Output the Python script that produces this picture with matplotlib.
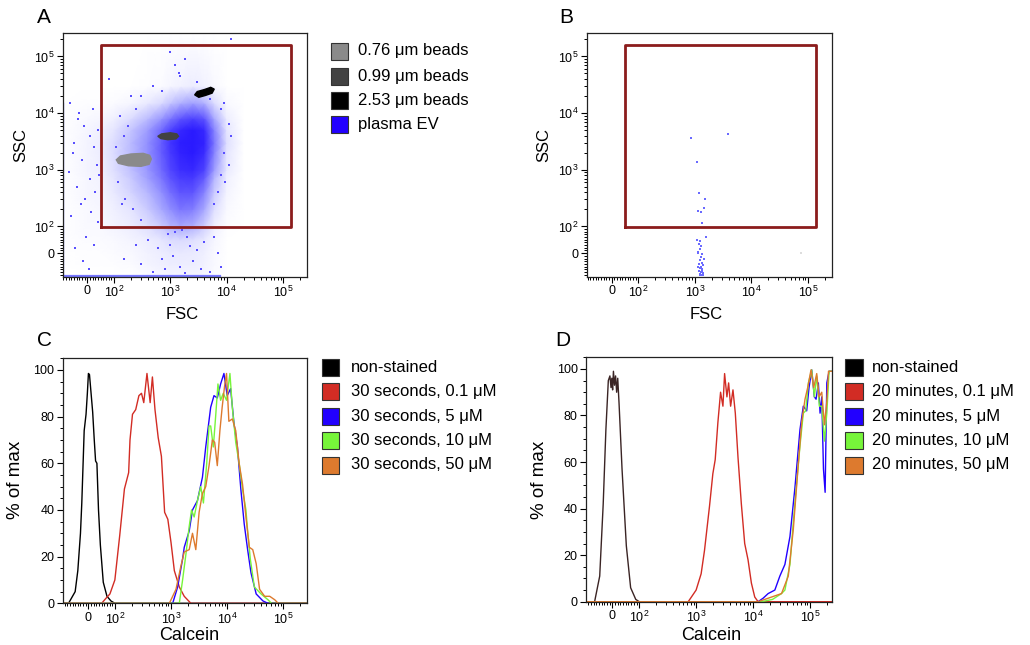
import numpy as np
import matplotlib
matplotlib.use('Agg')
import matplotlib.pyplot as plt
from matplotlib.colors import LinearSegmentedColormap
from matplotlib.patches import Rectangle
from matplotlib.ticker import FixedLocator, MultipleLocator

plt.rcParams['font.family'] = ['Liberation Sans', 'DejaVu Sans']
plt.rcParams['mathtext.default'] = 'regular'

# ---------------- data ----------------
# Panel A: plasma EV density (nodes in FSC / SSC units)
ev_fsc_nodes = [-93, 0, 50, 100, 200, 400, 700, 1000, 1500, 2500, 4000, 6000, 10000, 20000, 262144]
ev_ssc_nodes = [-88, -40, 0, 50, 100, 200, 400, 700, 1000, 2000, 3000, 5000, 8000, 15000, 30000, 262144]
ev_density = [
    [0, 0, 0, 0, 0, 0.02, 0.04, 0.05, 0.05, 0.05, 0.04, 0.02, 0, 0, 0],
    [0, 0.01, 0.01, 0.01, 0.02, 0.05, 0.07, 0.08, 0.08, 0.08, 0.06, 0.03, 0, 0, 0],
    [0, 0.01, 0.01, 0.02, 0.03, 0.06, 0.08, 0.10, 0.10, 0.09, 0.07, 0.03, 0, 0, 0],
    [0, 0.02, 0.02, 0.03, 0.05, 0.08, 0.12, 0.15, 0.16, 0.14, 0.10, 0.04, 0, 0, 0],
    [0, 0.03, 0.03, 0.05, 0.08, 0.14, 0.22, 0.30, 0.35, 0.32, 0.20, 0.07, 0.01, 0, 0],
    [0, 0.03, 0.04, 0.07, 0.12, 0.22, 0.35, 0.45, 0.55, 0.52, 0.35, 0.14, 0.03, 0, 0],
    [0, 0.04, 0.05, 0.10, 0.18, 0.30, 0.45, 0.58, 0.68, 0.68, 0.50, 0.22, 0.05, 0, 0],
    [0, 0.04, 0.06, 0.12, 0.22, 0.38, 0.55, 0.68, 0.80, 0.82, 0.65, 0.30, 0.07, 0, 0],
    [0, 0.05, 0.07, 0.14, 0.26, 0.42, 0.60, 0.75, 0.88, 0.92, 0.78, 0.40, 0.10, 0, 0],
    [0, 0.05, 0.08, 0.15, 0.28, 0.45, 0.65, 0.82, 0.95, 1.00, 0.90, 0.50, 0.12, 0, 0],
    [0, 0.05, 0.08, 0.15, 0.28, 0.45, 0.65, 0.85, 0.98, 1.00, 0.95, 0.55, 0.14, 0, 0],
    [0, 0.04, 0.07, 0.12, 0.24, 0.40, 0.60, 0.78, 0.92, 1.00, 0.92, 0.50, 0.12, 0, 0],
    [0, 0.03, 0.04, 0.07, 0.15, 0.28, 0.42, 0.55, 0.68, 0.78, 0.68, 0.35, 0.08, 0, 0],
    [0, 0.01, 0.01, 0.02, 0.04, 0.10, 0.16, 0.24, 0.32, 0.38, 0.32, 0.15, 0.03, 0, 0],
    [0, 0, 0, 0, 0, 0.01, 0.02, 0.04, 0.06, 0.08, 0.06, 0.03, 0, 0, 0],
    [0] * 15,
]
ev_sparse_fsc = [-65, -34, -12, 8, -50, 24, -20, 35, -70, 10, -40, 30, -25, 15, -60, 40, -5, 25, -45, -15, 5,
                 38, -30, 20, -55, 42, -8,
                 1000, 12000, 1200, 1800, 80, 1400, 200, 11000, 9000,
                 400, 700, 1000, 1500, 2000, 3000, 5000, 800, 1200, 2500, 600, 4000, 300, 1800, 7000, 1100,
                 2200, 900, 3500, 1600, 500, 250, 150, 8000, 6000,
                 130, 180, 250, 150, 300, 500, 700, 9000, 12000, 8000, 11000, 7000, 6000, 9500, 120, 160,
                 220, 110, 140, 300, 5000, 8000, 3000, 1500]
ev_sparse_ssc = [15000, 8000, 6000, 4000, 3000, 2500, 1500, 1200, 900, 700, 500, 400, 250, 180, 150, 120, 60,
                 30, 20, -30, -60, 5000, 10000, 12000, 2000, 800, 300,
                 120000, 200000, 70000, 90000, 40000, 50000, 20000, 6500, 15000,
                 50, -20, 30, -50, 60, 10, -70, -60, 80, -30, 20, 40, -40, -75, 0, -10,
                 25, 70, -60, 85, -70, 30, -20, -50, 60,
                 9000, 6000, 12000, 4000, 20000, 30000, 25000, 2000, 4000, 800, 1200, 400, 250, 600, 600, 300,
                 200, 2500, 250, 130, 18000, 12000, 35000, 45000]
edge_bottom_fsc = [-93, 7500]
edge_bottom_ssc = [-86, -86]
edge_left_fsc = [-91, -91]
edge_left_ssc = [-88, 15000]

bead076_fsc = [110, 130, 200, 330, 430, 460, 420, 300, 180, 120]
bead076_ssc = [1500, 1750, 1900, 1950, 1800, 1550, 1250, 1150, 1180, 1300]
bead099_fsc = [600, 700, 1000, 1300, 1400, 1250, 900, 680]
bead099_ssc = [3900, 4300, 4500, 4300, 3900, 3500, 3400, 3550]
bead253_fsc = [2700, 3000, 4000, 5200, 6000, 5500, 4200, 3200]
bead253_ssc = [21000, 24000, 26000, 28500, 26500, 22500, 20500, 19000]

gate_fsc = [50, 139000, 139000, 50, 50]
gate_ssc = [98, 98, 159000, 159000, 98]

legend_a_labels = ['0.76 μm beads', '0.99 μm beads', '2.53 μm beads', 'plasma EV']
legend_a_colors = ['#8a8a8a', '#424242', '#000000', '#2200ff']

# Panel B: buffer-only events
b_fsc = [850, 3800, 1100, 1200, 1500, 1150, 1480, 1300, 1350, 1100, 1550,
         1200, 1300, 1250, 1150, 1350, 1280, 1220, 1320, 1180, 1400, 1260, 1350, 1200, 1300, 1380,
         1240, 1420, 1320, 1160, 1450, 1150, 1230, 1280, 1340, 1260]
b_ssc = [3670, 4250, 1350, 390, 300, 185, 215, 180, 117, 51, 62,
         35, 25, 15, 5, -5, -15, -25, -35, -40, -45, -55, -60, -65, -70, -75,
         -78, -80, -82, 0, -20, -50, 45, -50, -68, -83]

# Panel C: 30 seconds staining
c_black_x = [-93, -75, -50, -40, -30, -25, -16, -9, -4, 0, 4, 10, 16, 22, 27, 32, 38, 45, 56, 70, 85, 100, 262144]
c_black_y = [0, 0, 5, 14, 30, 43, 74, 81, 90, 98.5, 98, 90, 82, 70, 61, 60, 40, 25, 9, 3, 1, 0, 0]
c_red_x = [-93, 50, 65, 81, 100, 122, 148, 176, 186, 206, 235, 268, 298, 327, 373, 425, 466, 518, 591,
           674, 769, 877, 1000, 1145, 1403, 1718, 2254, 262144]
c_red_y = [0, 0, 2, 4, 10, 29, 49, 56, 70, 81, 83, 89, 90, 86, 98.5, 86, 97, 83, 71, 63, 39, 36, 26, 14,
           7, 3, 0, 0]
c_blue_x = [-93, 1070, 1311, 1606, 1719, 2107, 2410, 2953, 3621, 4147, 5078, 5818, 6664, 7634, 8745,
            10000, 11500, 13220, 15200, 17470, 20080, 23090, 26540, 32790, 43300, 53300, 262144]
c_blue_y = [0, 0, 7, 19, 24, 31, 40, 44, 54, 67, 84, 89, 88, 94, 98.5, 89, 92, 77, 67, 49, 34, 23, 13,
            4, 1, 0, 0]
c_green_x = [-93, 1403, 1606, 1840, 2107, 2318, 2580, 2953, 3380, 3770, 4320, 4750, 5078, 5660, 6220,
             6840, 7634, 8500, 9730, 11180, 12330, 14180, 16300, 18740, 21540, 23090, 25770, 30400,
             40130, 53300, 61300, 262144]
c_green_y = [0, 0, 10, 21, 33, 40, 37, 44, 50, 43, 60, 76, 76, 67, 80, 94, 87, 90, 87, 98.5, 84, 69, 60,
             49, 40, 31, 19, 7, 4, 1.5, 0, 0]
c_orange_x = [-93, 933, 1225, 1500, 1719, 2107, 2410, 2760, 3160, 3621, 4147, 4750, 5440, 5980, 6660,
              7410, 8130, 8970, 9730, 10700, 12330, 14180, 16300, 18740, 21540, 24770, 28480, 32790,
              37700, 46400, 57100, 70300, 80700, 262144]
c_orange_y = [0, 0, 6, 16, 22, 23, 30, 23, 39, 47, 50, 59, 70, 69, 59, 74, 84, 93, 98.5, 78, 79, 74, 60,
              51, 37, 24, 23, 17, 6, 3, 3, 1.5, 0, 0]
legend_c_labels = ['non-stained', '30 seconds, 0.1 μM', '30 seconds, 5 μM', '30 seconds, 10 μM',
                   '30 seconds, 50 μM']

# Panel D: 20 minutes staining
d_black_x = [-98, -66, -47, -34, -24, -15, -9, -5, -2, 1, 4, 8, 12, 16, 20, 25, 36, 52, 68, 87, 100, 240000]
d_black_y = [0, 0, 11, 42, 74, 95, 97, 92, 96, 91, 99, 93, 97, 90, 96, 85, 57, 24, 6, 1, 0, 0]
d_red_x = [-98, 727, 826, 1000, 1225, 1403, 1718, 1967, 2163, 2411, 2687, 2956, 3162, 3474, 3721, 4034,
           4437, 4876, 5436, 6223, 7125, 8157, 9340, 10700, 12250, 240000]
d_red_y = [0, 0, 2, 5, 12, 22, 41, 55, 61, 77, 90, 84, 98, 88, 94, 84, 91, 81, 62, 42, 25, 18, 8, 2, 0, 0]
d_blue_x = [-98, 12250, 15000, 18400, 24100, 29500, 36200, 44400, 54300, 66600, 76200, 87300, 96000,
            107000, 119000, 127600, 140000, 150000, 160600, 172000, 184000, 197000, 216000, 240000]
d_blue_y = [0, 0, 1.5, 3.5, 5, 11, 16, 28, 49, 74, 84, 82, 92, 99.6, 88, 87, 94, 81, 88, 57, 47, 94, 99, 99]
d_green_x = [-98, 14200, 22000, 31600, 36200, 44400, 50800, 58200, 66600, 76200, 83900, 93500, 107000,
             119000, 131000, 146000, 160600, 179000, 197000, 216000, 240000]
d_green_y = [0, 0, 1, 3.5, 5, 16, 34, 51, 67, 81, 82, 94, 99.6, 88, 97, 84, 84, 69, 81, 99, 99]
d_orange_x = [-98, 12250, 21100, 31600, 41500, 50800, 62200, 71300, 81600, 91000, 104000, 116000,
              131000, 144000, 160600, 179000, 197000, 211000, 240000]
d_orange_y = [0, 0, 2, 3.5, 11, 31, 59, 77, 87, 92, 99.6, 92, 98, 88, 90, 76, 86, 99, 99]
legend_d_labels = ['non-stained', '20 minutes, 0.1 μM', '20 minutes, 5 μM', '20 minutes, 10 μM',
                   '20 minutes, 50 μM']

hist_colors = ['#000000', '#d22c24', '#2200ff', '#77f53a', '#dd7a2e']
d_black_color = '#3a2424'

major_ticks = [0, 100, 1000, 10000, 100000]
major_labels = ['0', '$10^2$', '$10^3$', '$10^4$', '$10^5$']
minor_ticks = ([-90, -80, -70, -60, -50, -40, -30, -20, -10, 10, 20, 30, 40, 50, 60, 70, 80, 90]
               + [m * 10 ** e for e in (2, 3, 4) for m in range(2, 10)] + [200000])

# ---------------- biexponential-like scale ----------------
V0 = 92.0
L0 = np.log10(V0)
K = V0 * np.log(10)


def fwd(v):
    v = np.asarray(v, dtype=float)
    return np.where(v >= V0, np.log10(np.maximum(v, V0)), L0 + (v - V0) / K)


def inv(t):
    t = np.asarray(t, dtype=float)
    return np.where(t >= L0, 10.0 ** np.minimum(t, 300), V0 + (t - L0) * K)


def biex(ax, which, lo, hi):
    if which == 'x':
        ax.set_xscale('function', functions=(fwd, inv))
        ax.set_xlim(lo, hi)
        ax.set_xticks(major_ticks, major_labels)
        ax.xaxis.set_minor_locator(FixedLocator(minor_ticks))
    else:
        ax.set_yscale('function', functions=(fwd, inv))
        ax.set_ylim(lo, hi)
        ax.set_yticks(major_ticks, major_labels)
        ax.yaxis.set_minor_locator(FixedLocator(minor_ticks))


def style(ax):
    ax.tick_params(which='major', direction='out', length=4, width=0.8, labelsize=9, pad=2)
    ax.tick_params(which='minor', direction='out', length=2.5, width=0.7)
    for s in ax.spines.values():
        s.set_linewidth(0.9)
        s.set_color('#222222')


W, H = 1030, 645
fig = plt.figure(figsize=(W / 100, H / 100), dpi=100)


def px_axes(l, t, r, b):
    return fig.add_axes([l / W, 1 - b / H, (r - l) / W, (b - t) / H])


axA = px_axes(62.7, 32.7, 306.7, 276.7)
axB = px_axes(586.7, 32.7, 831.7, 276.7)
axC = px_axes(62.7, 358.3, 306.7, 603.3)
axD = px_axes(586, 357.3, 831.7, 601.7)

# ---------------- Panel A ----------------
cmap = LinearSegmentedColormap.from_list('ev', [(0, '#ffffff'), (0.12, '#e4e4ff'), (0.35, '#a8a8ff'),
                                                (0.7, '#5a50ff'), (1.0, '#2a1aff')])
axA.pcolormesh(np.array(ev_fsc_nodes), np.array(ev_ssc_nodes), np.array(ev_density),
               shading='gouraud', cmap=cmap, vmin=0, vmax=1, zorder=1)
axA.scatter(ev_sparse_fsc, ev_sparse_ssc, s=2, marker='s', color='#5a50ff', linewidths=0, zorder=2)
axA.plot(edge_bottom_fsc, edge_bottom_ssc, color='#7878ff', lw=1.6, zorder=2)
axA.plot(edge_left_fsc, edge_left_ssc, color='#a0a0ff', lw=1.0, zorder=2)
axA.fill(bead076_fsc, bead076_ssc, color='#8a8a8a', zorder=3)
axA.fill(bead099_fsc, bead099_ssc, color='#424242', zorder=3)
axA.fill(bead253_fsc, bead253_ssc, color='#000000', zorder=3)
axA.plot(gate_fsc, gate_ssc, color='#8b1c1c', lw=2.0, zorder=4)
biex(axA, 'x', -93, 262144)
biex(axA, 'y', -88, 262144)
style(axA)

# ---------------- Panel B ----------------
axB.scatter(b_fsc, b_ssc, s=3, marker='s', color='#6a6aff', linewidths=0, zorder=2)
axB.scatter([76000], [0], s=3, marker='s', color='#dddddd', linewidths=0, zorder=2)
axB.plot(gate_fsc, gate_ssc, color='#8b1c1c', lw=2.0, zorder=4)
biex(axB, 'x', -93, 262144)
biex(axB, 'y', -88, 262144)
style(axB)

# ---------------- Panel C ----------------
for xs, ys, c in [(c_black_x, c_black_y, hist_colors[0]), (c_red_x, c_red_y, hist_colors[1]),
                  (c_blue_x, c_blue_y, hist_colors[2]), (c_green_x, c_green_y, hist_colors[3]),
                  (c_orange_x, c_orange_y, hist_colors[4])]:
    axC.plot(xs, ys, color=c, lw=1.0)
biex(axC, 'x', -97, 260000)
axC.set_ylim(0, 105)
axC.set_yticks([0, 20, 40, 60, 80, 100])
axC.yaxis.set_minor_locator(MultipleLocator(5))
style(axC)

# ---------------- Panel D ----------------
for xs, ys, c in [(d_black_x, d_black_y, d_black_color), (d_red_x, d_red_y, hist_colors[1]),
                  (d_blue_x, d_blue_y, hist_colors[2]), (d_green_x, d_green_y, hist_colors[3]),
                  (d_orange_x, d_orange_y, hist_colors[4])]:
    axD.plot(xs, ys, color=c, lw=1.0)
biex(axD, 'x', -98, 240000)
axD.set_ylim(0, 105)
axD.set_yticks([0, 20, 40, 60, 80, 100])
axD.yaxis.set_minor_locator(MultipleLocator(5))
style(axD)

# ---------------- labels ----------------
def ftext(x, y, s, **kw):
    fig.text(x / W, 1 - y / H, s, **kw)


for lab, x, y in [('A', 37, 17.5), ('B', 559, 17.5), ('C', 37.5, 341), ('D', 555, 341)]:
    ftext(x, y, lab, fontsize=15, ha='left', va='center')

ftext(21, 145, 'SSC', fontsize=12, rotation=90, ha='center', va='center')
ftext(544, 145, 'SSC', fontsize=12, rotation=90, ha='center', va='center')
ftext(182, 319, 'FSC', fontsize=12, ha='center', va='baseline')
ftext(706, 319, 'FSC', fontsize=12, ha='center', va='baseline')
ftext(16, 480, '% of max', fontsize=13.5, rotation=90, ha='center', va='center')
ftext(540, 480, '% of max', fontsize=13.5, rotation=90, ha='center', va='center')
ftext(189.5, 640, 'Calcein', fontsize=13, ha='center', va='baseline')
ftext(711, 640, 'Calcein', fontsize=13, ha='center', va='baseline')

# ---------------- legends ----------------
def legend(sq_x, txt_x, ys, labels, colors):
    for y, lab, c in zip(ys, labels, colors):
        fig.add_artist(Rectangle((sq_x / W, 1 - (y + 8.5) / H), 17.6 / W, 17 / H,
                                 transform=fig.transFigure, facecolor=c, edgecolor='#333333', lw=0.8))
        ftext(txt_x, y, lab, fontsize=12, ha='left', va='center')


legend(330.7, 358, [51, 76, 100, 124], legend_a_labels, legend_a_colors)
legend(321.7, 350.7, [367, 391.7, 416, 440, 465], legend_c_labels, hist_colors)
legend(845, 871.7, [367, 391.7, 416, 440, 465], legend_d_labels, hist_colors)

fig.savefig('out.png', dpi=100)
